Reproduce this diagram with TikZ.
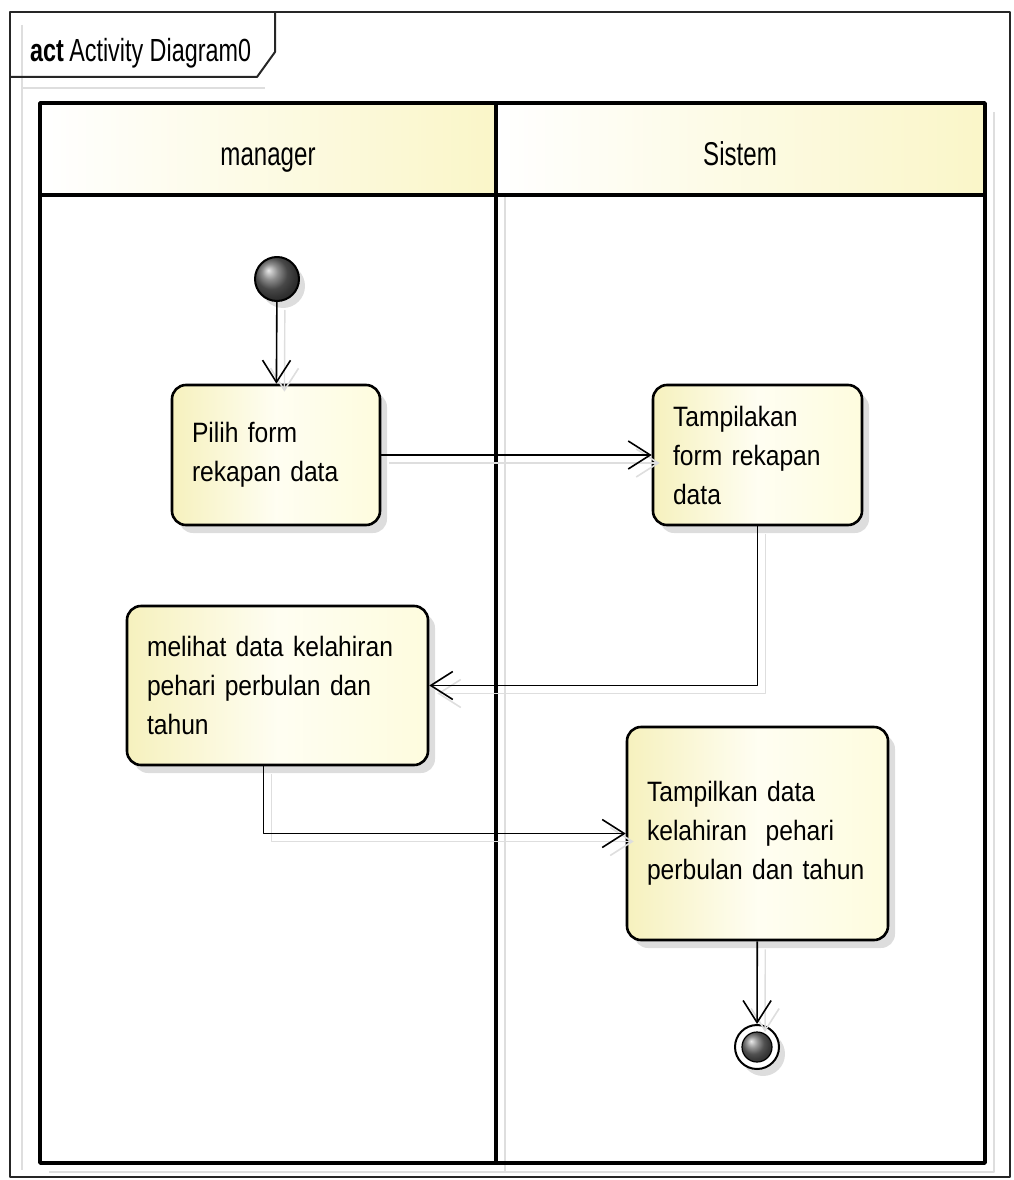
\documentclass[tikz,border=0pt]{standalone}
\usepackage{fontspec}
\setmainfont{Liberation Sans}
\newfontfamily\condfont[FakeStretch=0.73]{Liberation Sans}
\newfontfamily\bodyfont[FakeStretch=0.88,WordSpace=0.8]{Liberation Sans}
\usepackage{tikz}
\usetikzlibrary{arrows.meta}
\usetikzlibrary{shadows}
\definecolor{actfill}{RGB}{254,252,222}
\definecolor{actedge}{RGB}{246,241,190}
\definecolor{headfill}{RGB}{250,246,200}
\definecolor{ghost}{RGB}{222,222,222}
\tikzset{
  action/.style={draw, line width=2.6pt, rounded corners=14pt,
    left color=actedge, right color=actfill, middle color=white!60!actfill,
    inner xsep=20pt, align=left,
    font=\fontsize{28pt}{39pt}\bodyfont,
    drop shadow={shadow xshift=7pt, shadow yshift=-8pt, fill=black!22, opacity=.6}},
  flow/.style={draw, line width=1.6pt, -{Straight Barb[length=22pt,width=28pt,line width=1.6pt]},
    preaction={draw=ghost, line width=1.4pt, transform canvas={xshift=8pt,yshift=-8pt}}},
  lane/.style={draw, line width=3.6pt},
  lanetitle/.style={anchor=base, font=\fontsize{33pt}{36pt}\condfont}
}
\begin{document}
\begin{tikzpicture}[x=1pt,y=-1pt,line join=round]
        \useasboundingbox (0,0) rectangle (1013,1180);
        % draw the frame with its name tab
        \draw[ghost, line width=1.2pt] (22,25) -- (22,1170) (22,88) -- (265,88);
        \draw[black!85, line width=2pt] (10,12) rectangle (1010,1177);
        \draw[black!85, line width=2pt] (10,77) -- (257,77) -- (275,52) -- (275,12);
        \node[anchor=base west, inner sep=0pt, font=\fontsize{32pt}{36pt}\condfont] (title) at (30,62)
            {\textbf{act}\,Activity Diagram0};
        % draw the two lanes
        \draw[ghost, line width=1.4pt] (49,1172) -- (994,1172) -- (994,112) (505,195) -- (505,1172);
        \shade[left color=white, right color=headfill] (40,103) rectangle (496,195);
        \shade[left color=white, right color=headfill] (496,103) rectangle (985,195);
        \draw[lane] (40,103) rectangle (985,1163);
        \draw[lane] (40,195) -- (985,195);
        \draw[lane] (496,103) -- (496,1163);
        \node[lanetitle] (manager) at (268,165) {manager};
        \node[lanetitle] (sistem) at (740,165) {Sistem};
        % draw the activities
        \node[circle, draw, line width=2pt, minimum size=44pt, inner sep=0pt, shading=ball, ball color=black!60,
            drop shadow={shadow xshift=6pt, shadow yshift=-7pt, fill=black!22, opacity=.6}] (start) at (277,279) {};
        \node[action, text width=168pt, minimum height=140pt] (pilih) at (276,455) {Pilih form\\rekapan data};
        \node[action, text width=169pt, minimum height=140pt] (tampil) at (757.5,455) {Tampilakan\\form rekapan\\data};
        \node[action, text width=261pt, minimum height=159pt] (melihat) at (277.5,685.5) {melihat data kelahiran\\pehari perbulan dan\\tahun};
        \node[action, text width=221pt, minimum height=213pt] (tampilkan) at (757.5,833.5) {Tampilkan data\\kelahiran~ pehari\\perbulan dan tahun};
        \node[circle, draw, line width=2pt, fill=white, minimum size=44pt, inner sep=0pt,
            drop shadow={shadow xshift=6pt, shadow yshift=-7pt, fill=black!22, opacity=.6}] (end) at (757,1047) {};
        \node[circle, draw, line width=1.2pt, minimum size=30pt, inner sep=0pt, shading=ball, ball color=black!55] (endcore) at (end) {};
        % draw the flows
        \draw[flow] (start) -- (pilih);
        \draw[flow] (pilih) -- (tampil);
        \draw[flow] (tampil.south) |- (melihat.east);
        \draw[flow] ([xshift=-14pt]melihat.south) |- (tampilkan.west);
        \draw[flow] (tampilkan) -- (end);
    \end{tikzpicture}
\end{document}
